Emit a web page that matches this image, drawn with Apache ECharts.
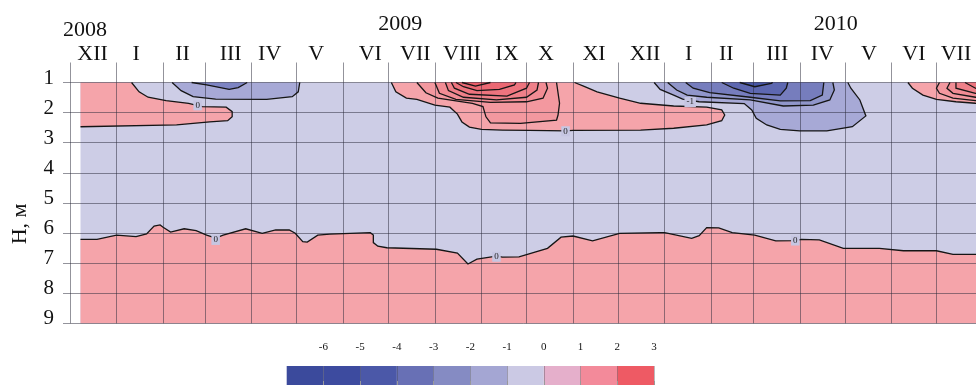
<!DOCTYPE html>
<html><head><meta charset="utf-8">
<script src="https://cdn.jsdelivr.net/npm/echarts@6/dist/echarts.min.js"></script>
<style>html,body{margin:0;padding:0;background:#fff}#c{width:976px;height:385px}</style>
</head><body><div id="c"></div>
<script>
// ---------- axis data ----------
const monthStarts = ['2008-12-01','2009-01-01','2009-02-01','2009-03-01','2009-04-01','2009-05-01','2009-06-01','2009-07-01','2009-08-01','2009-09-01','2009-10-01','2009-11-01','2009-12-01','2010-01-01','2010-02-01','2010-03-01','2010-04-01','2010-05-01','2010-06-01','2010-07-01','2010-08-01'];
const monthLabels = ['XII','I','II','III','IV','V','VI','VII','VIII','IX','X','XI','XII','I','II','III','IV','V','VI','VII'];
const monthLabelDates = ['2008-12-16','2009-01-14','2009-02-14','2009-03-18','2009-04-13','2009-05-14','2009-06-19','2009-07-19','2009-08-19','2009-09-18','2009-10-14','2009-11-15','2009-12-19','2010-01-17','2010-02-11','2010-03-17','2010-04-16','2010-05-17','2010-06-16','2010-07-14'];
const yearLabels = ['2008','2009','2010'];
const yearLabelDates = ['2008-12-11','2009-07-09','2010-04-25'];
const depthTicks = [1,2,3,4,5,6,7,8,9];
const dataStart = '2008-12-08';
const dataEnd = '2010-08-01';
const depthTop = 1, depthBottom = 9;

// ---------- contour lines [date, depth m] ----------
const zeroBottom = [['2008-12-08',6.21],['2008-12-19',6.21],['2009-01-01',6.07],['2009-01-14',6.12],['2009-01-21',6.03],['2009-01-26',5.77],['2009-01-30',5.73],['2009-02-01',5.81],['2009-02-06',5.97],['2009-02-15',5.86],['2009-02-23',5.92],['2009-03-02',6.07],['2009-03-08',6.17],['2009-03-13',6.07],['2009-03-28',5.86],['2009-04-08',6.01],['2009-04-17',5.90],['2009-04-26',5.90],['2009-04-30',6.01],['2009-05-05',6.29],['2009-05-08',6.30],['2009-05-15',6.07],['2009-05-23',6.04],['2009-06-19',5.99],['2009-06-21',6.07],['2009-06-21',6.32],['2009-06-24',6.44],['2009-06-30',6.49],['2009-08-02',6.54],['2009-08-16',6.67],['2009-08-23',7.03],['2009-08-29',6.87],['2009-09-11',6.77],['2009-09-15',6.80],['2009-09-26',6.79],['2009-10-15',6.51],['2009-10-24',6.14],['2009-11-01',6.10],['2009-11-14',6.26],['2009-12-02',6.01],['2009-12-29',5.99],['2010-01-01',5.99],['2010-01-19',6.18],['2010-01-24',6.09],['2010-01-29',5.82],['2010-02-06',5.83],['2010-02-15',5.99],['2010-03-02',6.07],['2010-03-16',6.26],['2010-03-29',6.25],['2010-04-02',6.21],['2010-04-14',6.23],['2010-04-30',6.51],['2010-05-24',6.51],['2010-06-09',6.59],['2010-07-01',6.59],['2010-07-12',6.71],['2010-08-01',6.71]];
const zeroTopLeft = [['2009-01-11',1],['2009-01-16',1.31],['2009-01-22',1.49],['2009-02-03',1.60],['2009-02-18',1.69],['2009-02-27',1.80],['2009-03-15',1.82],['2009-03-19',1.97],['2009-03-19',2.14],['2009-03-16',2.27],['2009-03-04',2.31],['2009-02-10',2.41],['2008-12-08',2.47]];
const cold09a = [['2009-02-07',1],['2009-02-13',1.27],['2009-02-21',1.47],['2009-03-08',1.55],['2009-04-11',1.56],['2009-04-28',1.47],['2009-05-02',1.31],['2009-05-03',1]];
const cold09b = [['2009-02-20',1],['2009-03-02',1.08],['2009-03-17',1.23],['2009-03-23',1.17],['2009-03-29',1]];
const warm09a = [['2009-07-03',1],['2009-07-06',1.31],['2009-07-13',1.52],['2009-07-20',1.56],['2009-08-01',1.75],['2009-08-11',1.82],['2009-08-16',2.05],['2009-08-19',2.31],['2009-08-24',2.48],['2009-09-01',2.56],['2009-09-15',2.58],['2009-10-03',2.59],['2009-10-27',2.61],['2009-11-01',2.59],['2009-12-16',2.58],['2010-01-07',2.52],['2010-01-29',2.41],['2010-02-08',2.27],['2010-02-10',2.08],['2010-02-08',1.91],['2010-01-29',1.82],['2010-01-07',1.78],['2009-12-16',1.69],['2009-12-02',1.52],['2009-11-17',1.31],['2009-11-08',1.12],['2009-11-02',1]];
const warm09b = [['2009-07-20',1],['2009-07-26',1.34],['2009-08-03',1.52],['2009-08-26',1.69],['2009-09-02',1.80],['2009-09-04',2.14],['2009-09-07',2.34],['2009-09-27',2.36],['2009-10-21',2.25],['2009-10-22',2.08],['2009-10-23',1.69],['2009-10-21',1]];
const warm09c = [['2009-08-01',1],['2009-08-04',1.36],['2009-08-15',1.56],['2009-09-07',1.66],['2009-10-01',1.64],['2009-10-12',1.52],['2009-10-15',1.19],['2009-10-14',1]];
const warm09d = [['2009-08-08',1],['2009-08-10',1.27],['2009-08-20',1.49],['2009-09-11',1.58],['2009-10-01',1.49],['2009-10-08',1.25],['2009-10-09',1]];
const warm09e = [['2009-08-12',1],['2009-08-14',1.19],['2009-08-24',1.39],['2009-09-18',1.45],['2009-10-01',1.19],['2009-10-03',1]];
const warm09f = [['2009-08-15',1],['2009-08-20',1.14],['2009-08-29',1.27],['2009-09-13',1.23],['2009-09-23',1.08],['2009-09-24',1]];
const warm09g = [['2009-08-19',1],['2009-08-28',1.12],['2009-09-07',1]];
const cold10a = [['2009-12-25',1],['2009-12-29',1.23],['2010-01-07',1.42],['2010-01-13',1.55],['2010-01-24',1.64],['2010-02-23',1.70],['2010-02-28',1.91],['2010-03-03',2.19],['2010-03-10',2.41],['2010-03-19',2.56],['2010-04-01',2.61],['2010-04-19',2.61],['2010-05-06',2.47],['2010-05-15',2.11],['2010-05-11',1.58],['2010-05-05',1.19],['2010-05-03',1]];
const cold10b = [['2010-01-03',1],['2010-01-09',1.25],['2010-01-16',1.42],['2010-01-29',1.49],['2010-02-27',1.58],['2010-03-21',1.78],['2010-04-10',1.75],['2010-04-21',1.58],['2010-04-24',1.25],['2010-04-23',1]];
const cold10c = [['2010-01-15',1],['2010-01-20',1.19],['2010-01-31',1.34],['2010-02-27',1.49],['2010-03-19',1.61],['2010-04-08',1.60],['2010-04-16',1.42],['2010-04-17',1]];
const cold10d = [['2010-02-08',1],['2010-02-16',1.19],['2010-02-27',1.36],['2010-03-19',1.42],['2010-03-23',1.19],['2010-03-24',1]];
const cold10e = [['2010-02-20',1],['2010-03-02',1.14],['2010-03-13',1.03],['2010-03-14',1]];
const warm10a = [['2010-06-12',1],['2010-06-15',1.19],['2010-06-22',1.42],['2010-07-01',1.56],['2010-07-14',1.64],['2010-07-27',1.69],['2010-08-01',1.70]];
const warm10b = [['2010-07-03',1],['2010-07-01',1.19],['2010-07-03',1.36],['2010-07-12',1.52],['2010-07-27',1.60],['2010-08-01',1.61]];
const warm10c = [['2010-07-10',1],['2010-07-08',1.19],['2010-07-12',1.36],['2010-07-27',1.49],['2010-08-01',1.50]];
const warm10d = [['2010-07-14',1],['2010-07-14',1.19],['2010-07-27',1.36],['2010-08-01',1.38]];
const warm10e = [['2010-07-20',1],['2010-07-27',1.19],['2010-08-01',1.22]];

// contour labels
const labelDates = ['2009-02-24','2009-03-08','2009-09-11','2009-10-27','2010-01-18','2010-03-29'];
const labelDepths = [1.76, 6.23, 6.79, 2.62, 1.65, 6.25];
const labelTexts = ['0','0','0','0','-1','0'];

// colour scale legend
const legendBounds = [-7,-6,-5,-4,-3,-2,-1,0,1,2,3];
const legendTicks = [-6,-5,-4,-3,-2,-1,0,1,2,3];

// ---------- styling / build ----------
const t = s => { const [y,m,d] = s.split('-').map(Number); return new Date(y, m-1, d).getTime(); };
const serif = '"Liberation Serif", "DejaVu Serif", serif';
const gridCol = 'rgba(40,40,55,0.5)';
const BG = '#cdcde6';
const PINK = '#f5a4aa';
const legendColors = ['#3b4a9c','#3d4b9f','#4b58a8','#6870b5','#858bc3','#a4a6d3','#cbc9e4','#e5afcb','#f38a9a','#ee5a64'];

const layers = [
  {pts: zeroBottom, close: [[dataEnd, depthBottom],[dataStart, depthBottom]], color: PINK},
  {pts: zeroTopLeft, close: [[dataStart, depthTop]], color: PINK},
  {pts: cold09a, color: '#a7a9d6'},
  {pts: cold09b, color: '#7d84c3'},
  {pts: warm09a, color: PINK},
  {pts: warm09b, color: '#f3989f'},
  {pts: warm09c, color: '#f18c94'},
  {pts: warm09d, color: '#ef8089'},
  {pts: warm09e, color: '#ed747e'},
  {pts: warm09f, color: '#eb6873'},
  {pts: warm09g, color: '#e95c67'},
  {pts: cold10a, color: '#a7a9d6'},
  {pts: cold10b, color: '#9096ca'},
  {pts: cold10c, color: '#767dbd'},
  {pts: cold10d, color: '#5d67b0'},
  {pts: cold10e, color: '#4655a5'},
  {pts: warm10a, close: [[dataEnd, depthTop]], color: PINK},
  {pts: warm10b, close: [[dataEnd, depthTop]], color: '#f3989f'},
  {pts: warm10c, close: [[dataEnd, depthTop]], color: '#f18c94'},
  {pts: warm10d, close: [[dataEnd, depthTop]], color: '#ef8089'},
  {pts: warm10e, close: [[dataEnd, depthTop]], color: '#ed747e'}
];
const toNum = arr => arr.map(p => [t(p[0]), p[1]]);
layers.forEach(L => { L.line = toNum(L.pts); L.fill = toNum(L.pts.concat(L.close || [])); });

const monthLabelTs = monthLabelDates.map(t);
const yearTs = yearLabelDates.map(t);
const xMin = t(monthStarts[0]), xMax = t(monthStarts[monthStarts.length-1]);
const nearest = (arr, v) => { let bi = 0, bd = Infinity; arr.forEach((a, i) => { const d = Math.abs(a - v); if (d < bd) { bd = d; bi = i; } }); return bi; };

const chart = echarts.init(document.getElementById('c'), null, {renderer: 'canvas'});
chart.setOption({
  animation: false,
  backgroundColor: '#fff',
  grid: [
    {left: 70, width: 913, top: 82.5, height: 240.8, containLabel: false, outerBoundsMode: 'none'},
    {left: 286.7, width: 367.3, top: 366, height: 22, containLabel: false, outerBoundsMode: 'none'}
  ],
  xAxis: [
    {type: 'value', gridIndex: 0, position: 'top', min: xMin, max: xMax, z: 2,
     axisLine: {show: false},
     axisTick: {show: true, customValues: monthStarts.map(t), length: 20, inside: false, lineStyle: {color: gridCol, width: 1}},
     splitLine: {show: true, lineStyle: {color: gridCol, width: 1}},
     axisLabel: {customValues: monthLabelTs, formatter: v => monthLabels[nearest(monthLabelTs, v)], margin: 17, fontSize: 22, fontFamily: serif, color: '#111', hideOverlap: false}},
    {type: 'value', gridIndex: 0, position: 'top', min: xMin, max: xMax,
     axisLine: {show: false}, axisTick: {show: false}, splitLine: {show: false},
     axisLabel: {customValues: yearTs, formatter: v => { const i = nearest(yearTs, v); return i === 0 ? '{lo|' + yearLabels[i] + '}' : '{hi|' + yearLabels[i] + '}'; },
       margin: 41, fontSize: 22, fontFamily: serif, color: '#111',
       rich: {lo: {fontSize: 22, fontFamily: serif, color: '#111'}, hi: {fontSize: 22, fontFamily: serif, color: '#111', padding: [0,0,6,0]}}}},
    {type: 'value', gridIndex: 1, position: 'top', min: legendBounds[0], max: legendBounds[legendBounds.length-1], interval: 1, z: 2,
     axisLine: {show: false},
     axisTick: {show: true, customValues: legendTicks, length: 7, lineStyle: {color: '#999'}},
     splitLine: {show: true, lineStyle: {color: 'rgba(60,60,70,0.35)'}},
     axisLabel: {customValues: legendTicks, margin: 13, fontSize: 11, fontFamily: serif, color: '#111'}}
  ],
  yAxis: [
    {type: 'value', gridIndex: 0, inverse: true, min: depthTop, max: depthBottom, interval: 1, z: 2,
     name: 'H, м', nameLocation: 'middle', nameRotate: 90, nameGap: 39,
     nameTextStyle: {fontSize: 22, fontFamily: serif, color: '#111', padding: [0, 42, 0, 0]},
     axisLine: {show: false},
     axisTick: {show: true, length: 7, lineStyle: {color: gridCol}},
     splitLine: {show: true, lineStyle: {color: gridCol}},
     axisLabel: {margin: 16, fontSize: 21, fontFamily: serif, color: '#111', verticalAlign: 'bottom', lineHeight: 9}},
    {type: 'value', gridIndex: 1, min: 0, max: 1, show: false}
  ],
  series: [
    {type: 'custom', xAxisIndex: 0, yAxisIndex: 0, z: 1, silent: true,
     data: [[t(dataStart), depthTop]],
     renderItem: (p, api) => {
       const a = api.coord([t(dataStart), depthTop]), b = api.coord([t(dataEnd), depthBottom]);
       return {type: 'rect', shape: {x: a[0], y: a[1], width: b[0]-a[0], height: b[1]-a[1]}, style: {fill: BG}};
     }},
    {type: 'custom', xAxisIndex: 0, yAxisIndex: 0, z: 1, silent: true,
     data: layers.map(L => L.line[0]),
     renderItem: (p, api) => {
       const L = layers[p.dataIndex];
       return {type: 'polygon', shape: {points: L.fill.map(q => api.coord(q))}, style: {fill: L.color}};
     }},
    {type: 'custom', xAxisIndex: 0, yAxisIndex: 0, z: 3, silent: true,
     data: layers.map(L => L.line[0]),
     renderItem: (p, api) => {
       const L = layers[p.dataIndex];
       return {type: 'polyline', shape: {points: L.line.map(q => api.coord(q))}, style: {stroke: '#151515', lineWidth: 1.3, fill: null}};
     }},
    {type: 'custom', xAxisIndex: 0, yAxisIndex: 0, z: 4, silent: true,
     data: labelDates.map((d, i) => [t(d), labelDepths[i]]),
     renderItem: (p, api) => {
       const c = api.coord([api.value(0), api.value(1)]);
       return {type: 'text', x: c[0], y: c[1], style: {text: labelTexts[p.dataIndex], fontSize: 9, fontFamily: serif, fill: '#222', align: 'center', verticalAlign: 'middle', backgroundColor: '#c6c6e2', padding: [1, 2, 0, 2]}};
     }},
    {type: 'custom', xAxisIndex: 2, yAxisIndex: 1, z: 1, silent: true,
     data: legendColors.map((c, i) => [legendBounds[i], legendBounds[i+1]]),
     renderItem: (p, api) => {
       const a = api.coord([api.value(0), 1]), b = api.coord([api.value(1), 0]);
       return {type: 'rect', shape: {x: a[0], y: a[1], width: b[0]-a[0], height: b[1]-a[1]}, style: {fill: legendColors[p.dataIndex]}};
     }}
  ]
});
</script></body></html>
